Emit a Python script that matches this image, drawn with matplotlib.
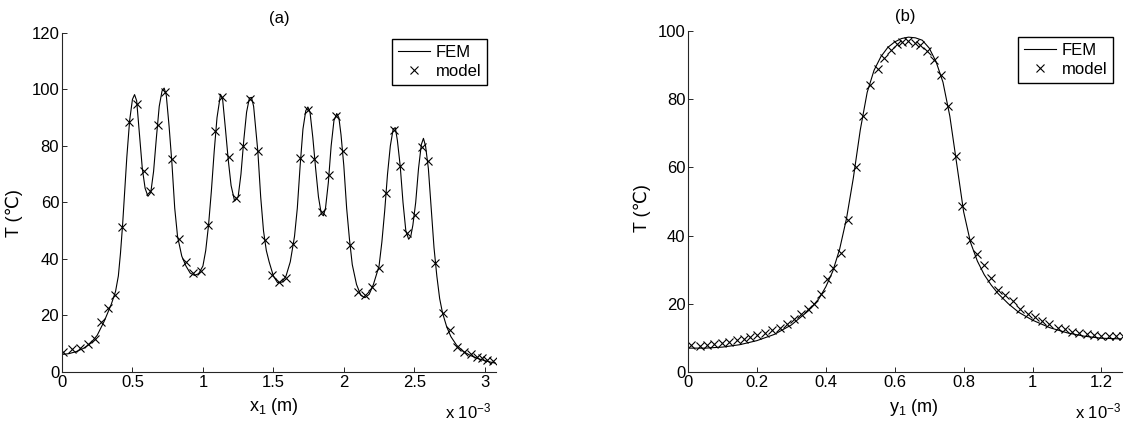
import matplotlib
matplotlib.use("Agg")
import matplotlib.pyplot as plt
from matplotlib.ticker import FuncFormatter

plt.rcParams['font.family'] = ['Liberation Sans', 'DejaVu Sans']
plt.rcParams['mathtext.fontset'] = 'custom'
plt.rcParams['mathtext.rm'] = 'Liberation Sans'
plt.rcParams['mathtext.it'] = 'Liberation Sans:italic'

# ---- panel (a): temperature along x1 (x in units of 1e-3 m) ----
fem_a_x = [0.00, 0.05, 0.10, 0.15, 0.20, 0.25, 0.30, 0.35, 0.38, 0.40, 0.415, 0.43, 0.445,
           0.46, 0.48, 0.50, 0.515, 0.53, 0.55, 0.57, 0.59, 0.61, 0.63, 0.65, 0.67, 0.69,
           0.71, 0.725, 0.74, 0.76, 0.78, 0.80, 0.82, 0.85, 0.88, 0.91, 0.94, 0.97, 1.00,
           1.02, 1.04, 1.06, 1.08, 1.10, 1.125, 1.14, 1.16, 1.18, 1.20, 1.225, 1.25, 1.27,
           1.29, 1.31, 1.33, 1.345, 1.36, 1.375, 1.39, 1.41, 1.43, 1.45, 1.47, 1.50, 1.53,
           1.56, 1.59, 1.62, 1.65, 1.67, 1.69, 1.71, 1.73, 1.745, 1.76, 1.78, 1.80, 1.82,
           1.84, 1.855, 1.87, 1.89, 1.91, 1.93, 1.95, 1.965, 1.98, 2.00, 2.02, 2.04, 2.06,
           2.09, 2.12, 2.15, 2.18, 2.21, 2.25, 2.27, 2.29, 2.31, 2.33, 2.35, 2.365, 2.38,
           2.40, 2.42, 2.44, 2.46, 2.475, 2.49, 2.51, 2.53, 2.55, 2.565, 2.58, 2.60, 2.62,
           2.64, 2.66, 2.68, 2.70, 2.73, 2.76, 2.80, 2.85, 2.90, 2.95, 3.00, 3.05, 3.08]
fem_a_T = [6.2, 6.5, 7.2, 8.3, 10.0, 13.0, 18.0, 24.0, 28.5, 34.0, 42.0, 52.0, 64.0,
           76.0, 89.0, 96.5, 98.2, 96.0, 84.0, 72.0, 65.0, 62.2, 63.5, 71.0, 83.0, 94.0,
           99.5, 100.5, 98.0, 87.0, 74.0, 58.0, 48.0, 41.0, 37.5, 35.0, 34.2, 34.8, 37.5,
           43.0, 52.0, 64.0, 78.0, 90.0, 98.3, 96.5, 86.0, 75.0, 66.0, 60.5, 62.0, 70.0,
           82.0, 92.0, 97.0, 97.2, 94.0, 86.0, 78.0, 62.0, 50.0, 43.0, 39.0, 34.0, 31.6,
           31.8, 34.0, 39.0, 48.0, 58.0, 73.0, 86.0, 92.5, 93.8, 92.0, 83.0, 72.0, 62.0,
           56.0, 55.3, 58.0, 67.0, 80.0, 89.0, 91.5, 90.0, 84.0, 73.0, 58.0, 47.0, 38.0,
           31.0, 27.2, 26.3, 27.5, 31.0, 37.5, 46.0, 57.0, 70.0, 80.0, 86.0, 86.5, 82.0,
           73.0, 60.0, 50.0, 47.0, 48.0, 52.0, 60.0, 72.0, 80.5, 82.7, 80.0, 72.0, 58.0,
           44.0, 34.0, 26.0, 21.0, 16.0, 12.5, 9.5, 7.2, 5.8, 4.8, 4.0, 3.4, 3.1]

model_a_x = [0.01, 0.069, 0.127, 0.184, 0.235, 0.278, 0.327, 0.378, 0.427, 0.478,
             0.529, 0.580, 0.626, 0.679, 0.730, 0.781, 0.832, 0.880, 0.929, 0.985,
             1.036, 1.086, 1.132, 1.186, 1.234, 1.285, 1.336, 1.392, 1.438, 1.489,
             1.539, 1.590, 1.641, 1.692, 1.743, 1.791, 1.846, 1.893, 1.947, 1.993,
             2.042, 2.099, 2.147, 2.201, 2.251, 2.298, 2.354, 2.398, 2.450, 2.502,
             2.557, 2.600, 2.647, 2.704, 2.752, 2.806, 2.853, 2.900, 2.948, 2.983,
             3.019, 3.058]
model_a_T = [7.2, 8.0, 8.6, 10.0, 11.8, 17.6, 22.7, 27.1, 51.2, 88.5,
             94.7, 71.3, 64.2, 87.5, 99.2, 75.4, 47.2, 38.8, 35.1, 35.6,
             52.1, 85.4, 97.4, 76.2, 61.5, 80.0, 96.5, 78.4, 46.8, 34.2,
             31.8, 33.3, 45.3, 75.9, 92.7, 75.3, 56.5, 69.8, 90.6, 78.2,
             45.1, 28.2, 27.2, 30.1, 36.8, 63.5, 85.6, 72.9, 49.2, 55.6,
             79.8, 74.7, 38.6, 20.9, 14.7, 9.0, 7.2, 6.4, 5.4, 4.8,
             4.2, 4.0]

# ---- panel (b): temperature along y1 (y in units of 1e-3 m) ----
fem_b_x = [0.00, 0.05, 0.10, 0.15, 0.20, 0.25, 0.30, 0.35, 0.38, 0.40, 0.42, 0.44, 0.46,
           0.48, 0.50, 0.52, 0.54, 0.56, 0.58, 0.60, 0.62, 0.64, 0.66, 0.68, 0.70, 0.72,
           0.74, 0.76, 0.78, 0.80, 0.82, 0.84, 0.86, 0.88, 0.90, 0.93, 0.96, 1.00, 1.05,
           1.10, 1.15, 1.20, 1.26]
fem_b_T = [7.0, 7.0, 7.3, 8.0, 9.2, 11.0, 13.8, 18.0, 21.5, 25.0, 29.5, 36.0, 45.0,
           57.0, 71.0, 82.0, 88.5, 92.5, 95.2, 96.8, 97.8, 98.2, 98.0, 97.3, 95.0, 91.0,
           85.0, 75.0, 61.0, 47.0, 38.0, 32.5, 28.5, 25.5, 23.0, 20.0, 17.5, 15.2, 13.0,
           11.5, 10.5, 9.9, 9.7]

model_b_x = [0.008, 0.035, 0.055, 0.076, 0.098, 0.118, 0.142, 0.161, 0.181, 0.200,
             0.222, 0.245, 0.267, 0.288, 0.309, 0.327, 0.347, 0.366, 0.385, 0.404,
             0.422, 0.443, 0.465, 0.488, 0.508, 0.529, 0.550, 0.570, 0.588, 0.607,
             0.621, 0.639, 0.658, 0.674, 0.693, 0.714, 0.735, 0.756, 0.778, 0.796,
             0.818, 0.838, 0.860, 0.880, 0.899, 0.920, 0.943, 0.965, 0.986, 1.007,
             1.028, 1.049, 1.073, 1.094, 1.115, 1.136, 1.157, 1.178, 1.199, 1.222,
             1.243, 1.262]
model_b_T = [8.0, 7.6, 7.8, 8.3, 8.5, 8.8, 9.3, 9.8, 10.3, 10.8,
             11.4, 12.2, 13.0, 14.0, 15.5, 17.0, 18.4, 20.0, 23.0, 27.2,
             30.4, 35.0, 44.6, 60.0, 75.0, 84.3, 89.0, 92.0, 94.3, 96.1,
             96.8, 97.2, 96.5, 95.8, 94.0, 91.4, 87.2, 78.1, 63.4, 48.6,
             38.7, 34.6, 31.4, 27.6, 24.1, 22.5, 20.7, 18.4, 16.9, 16.1,
             15.0, 14.0, 13.0, 12.5, 11.7, 11.3, 11.0, 10.8, 10.6, 10.5,
             10.5, 10.7]

xticks_a = [0, 0.5, 1, 1.5, 2, 2.5, 3]
yticks_a = [0, 20, 40, 60, 80, 100, 120]
xticks_b = [0, 0.2, 0.4, 0.6, 0.8, 1.0, 1.2]
yticks_b = [0, 20, 40, 60, 80, 100]

FS = 12
LFS = 13
fig = plt.figure(figsize=(11.25, 4.23), dpi=100)
ax_a = fig.add_axes([0.0551, 0.1206, 0.3858, 0.8014])
ax_b = fig.add_axes([0.6116, 0.1206, 0.3858, 0.8061])

fmt = FuncFormatter(lambda v, p: '%g' % v)


def style(ax, xlim, ylim, xt, yt):
    ax.set_xlim(*xlim)
    ax.set_ylim(*ylim)
    ax.set_xticks(xt)
    ax.set_yticks(yt)
    ax.xaxis.set_major_formatter(fmt)
    ax.yaxis.set_major_formatter(fmt)
    for s in ['top', 'right']:
        ax.spines[s].set_visible(False)
    for s in ['left', 'bottom']:
        ax.spines[s].set_color('#262626')
        ax.spines[s].set_linewidth(0.8)
    ax.tick_params(direction='in', length=3.5, width=0.7, labelsize=FS, pad=2,
                   color='#262626', top=False, right=False)


ax_a.plot(fem_a_x, fem_a_T, color='black', lw=0.8, label='FEM')
ax_a.plot(model_a_x, model_a_T, 'x', color='black', ms=6, mew=0.8, label='model')
style(ax_a, (0, 3.08), (0, 120), xticks_a, yticks_a)
ax_a.set_title('(a)', fontsize=FS, pad=7)

ax_b.plot(fem_b_x, fem_b_T, color='black', lw=0.8, label='FEM')
ax_b.plot(model_b_x, model_b_T, 'x', color='black', ms=6, mew=0.8, label='model')
style(ax_b, (0, 1.26), (0, 100), xticks_b, yticks_b)
ax_b.set_title('(b)', fontsize=FS, pad=7)

ax_a.set_xlabel(r'x$_{\mathrm{1}}$ (m)', fontsize=LFS)
ax_a.xaxis.set_label_coords(0.488, -0.072)
ax_a.set_ylabel('T (\u2103)', fontsize=LFS)
ax_a.yaxis.set_label_coords(-0.09, 0.47)

ax_b.set_xlabel(r'y$_{\mathrm{1}}$ (m)', fontsize=LFS)
ax_b.xaxis.set_label_coords(0.52, -0.072)
ax_b.set_ylabel('T (\u2103)', fontsize=LFS)
ax_b.yaxis.set_label_coords(-0.085, 0.48)

for ax in (ax_a, ax_b):
    leg = ax.legend(loc='upper right', bbox_to_anchor=(0.979, 0.982), borderaxespad=0,
                    fontsize=FS, fancybox=False, framealpha=1, edgecolor='black',
                    handlelength=1.9, handletextpad=0.35, borderpad=0.35,
                    labelspacing=0.25)
    leg.get_frame().set_linewidth(1.0)

fig.text(0.437, 0.012, r'x 10$^{-3}$', fontsize=FS, ha='right', va='baseline')
fig.text(0.997, 0.012, r'x 10$^{-3}$', fontsize=FS, ha='right', va='baseline')

fig.savefig('out.png', dpi=100)
